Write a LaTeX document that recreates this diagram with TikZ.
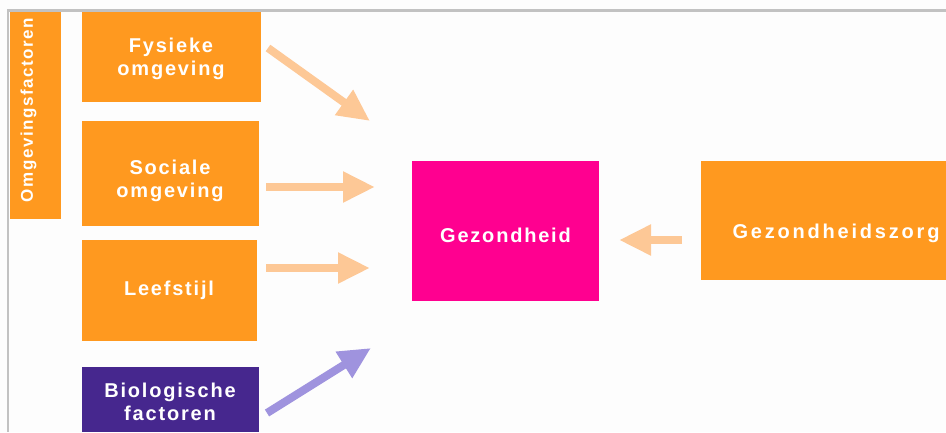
\documentclass[tikz,border=0pt]{standalone}
\usepackage{fontspec}
\setmainfont{Liberation Sans}[LetterSpace=9]
\usetikzlibrary{arrows.meta}
\definecolor{oranje}{HTML}{FF991F}
\definecolor{roze}{HTML}{FF0090}
\definecolor{paars}{HTML}{46278E}
\definecolor{perzik}{HTML}{FDC896}
\definecolor{lila}{HTML}{9F93DE}
\definecolor{kader}{HTML}{C2C2C2}
\definecolor{achtergrond}{HTML}{FDFDFD}
\tikzset{
  pijl/.style={line width=8pt, draw=perzik,
    -{Triangle[width=29pt,length=32pt]}},
  label/.style={text=white, font=\fontsize{20}{23}\selectfont\bfseries, align=center, inner sep=0pt}
}
\begin{document}
\begin{tikzpicture}[x=1pt,y=-1pt]
  \useasboundingbox (0,0) rectangle (946,432);
  \fill[achtergrond] (0,0) rectangle (946,432);
  % frame lines
  \draw[kader, line width=3pt] (7,10.5) -- (946,10.5);
  \draw[kader, line width=2pt] (8.3,9) -- (8.3,432);

  % side bar
  \fill[oranje] (10,12) rectangle (61,219);
  \node[rotate=90, text=white, inner sep=0pt,
        font=\fontsize{17}{18}\selectfont\bfseries] (omg) at (28.5,110) {Omgevingsfactoren};

  % factor boxes
  \fill[oranje] (82,12) rectangle (261,102);
  \node[label] (fys) at (171,59) {Fysieke\\omgeving};
  \fill[oranje] (82,121) rectangle (259,226);
  \node[label] (soc) at (170,181) {Sociale\\omgeving};
  \fill[oranje] (82,240) rectangle (257,341);
  \node[label] (lee) at (169,290) {Leefstijl};
  \fill[paars] (82,367) rectangle (259,432);
  \node[label] (bio) at (170,402) {Biologische\\factoren};

  % centre box and care box
  \fill[roze] (412,161) rectangle (599,301);
  \node[label] (gez) at (505.5,235) {Gezondheid};
  \fill[oranje] (701,161) rectangle (946,280);
  \node[label, font=\fontsize{20}{23}\selectfont\bfseries\addfontfeature{LetterSpace=14}] (zorg) at (836,233) {Gezondheidszorg};

  % arrow tips and tails
  \coordinate (t1) at (370,121);
  \coordinate (t2) at (375,187);
  \coordinate (t3) at (370,268);
  \coordinate (t4) at (371,348);
  \coordinate (t5) at (619,240);
  \coordinate (s1) at (268,48);
  \coordinate (s2) at (266,187);
  \coordinate (s3) at (266,268);
  \coordinate (s4) at (267,413);
  \coordinate (s5) at (682,240);

  \draw[pijl] (s1) -- (t1);
  \draw[pijl] (s2) -- (t2);
  \draw[pijl] (s3) -- (t3);
  \draw[pijl, draw=lila] (s4) -- (t4);
  \draw[pijl] (s5) -- (t5);
\end{tikzpicture}
\end{document}
